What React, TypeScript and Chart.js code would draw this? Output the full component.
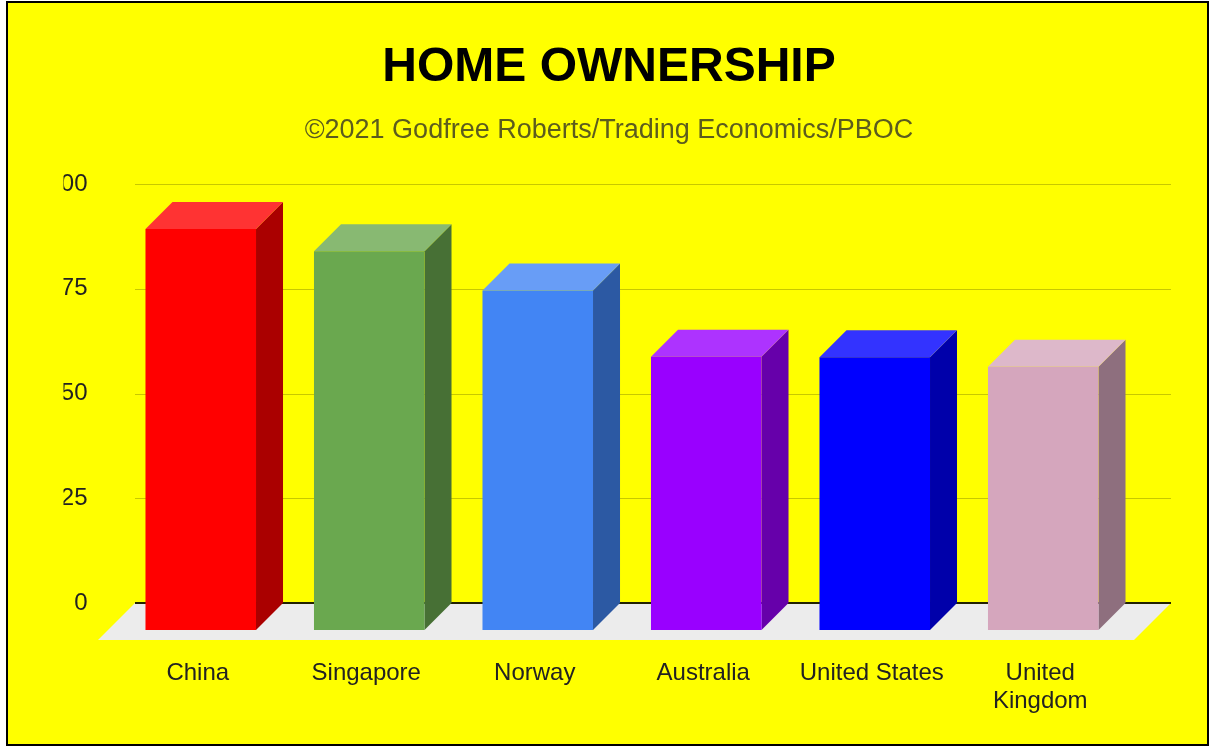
import React, { useEffect, useRef } from "react";
import { Chart, registerables } from "chart.js";

Chart.register(...registerables);

const categories = ["China", "Singapore", "Norway", "Australia", "United States", ["United", "Kingdom"]];
const ownership = [95.7, 90.4, 81, 65.2, 65.1, 62.8];
const frontColors = ["#ff0000", "#6aa84f", "#4285f4", "#9900ff", "#0000ff", "#d5a6bd"];
const topColors = ["#ff3333", "#88b972", "#689df6", "#ad33ff", "#3333ff", "#ddb8ca"];
const sideColors = ["#aa0000", "#477035", "#2c59a3", "#6600aa", "#0000aa", "#8e6f7e"];
const yTicks = [0, 25, 50, 75, 100];
const titleText = "HOME OWNERSHIP";
const subtitleText = "©2021 Godfree Roberts/Trading Economics/PBOC";

const DEPTH = 27;
const FLOOR = 37;

const threeD = {
  id: "threeD",
  beforeDraw(chart: any) {
    const { ctx, width, height } = chart;
    ctx.save();
    ctx.fillStyle = "#ffff00";
    ctx.fillRect(7, 2, width - 8, height - 3);
    ctx.strokeStyle = "#000000";
    ctx.lineWidth = 2;
    ctx.strokeRect(7, 2, width - 9, height - 4);
    ctx.restore();
  },
  beforeDatasetsDraw(chart: any) {
    const { ctx, chartArea, scales } = chart;
    const left = chartArea.left - 8.5;
    const right = chartArea.right + 16.5;
    const zero = scales.y.getPixelForValue(0);
    ctx.save();
    ctx.fillStyle = "#ececec";
    ctx.beginPath();
    ctx.moveTo(left, zero);
    ctx.lineTo(right, zero);
    ctx.lineTo(right - FLOOR, zero + FLOOR);
    ctx.lineTo(left - FLOOR, zero + FLOOR);
    ctx.closePath();
    ctx.fill();
    yTicks.forEach((v) => {
      const y = Math.round(scales.y.getPixelForValue(v)) + 0.5;
      ctx.strokeStyle = v === 0 ? "#222200" : "#c8c800";
      ctx.lineWidth = v === 0 ? 2 : 1;
      ctx.beginPath();
      ctx.moveTo(left, v === 0 ? y - 0.5 : y);
      ctx.lineTo(right, v === 0 ? y - 0.5 : y);
      ctx.stroke();
    });
    const meta = chart.getDatasetMeta(0);
    meta.data.forEach((bar: any, i: number) => {
      const p = bar.getProps(["x", "y", "base", "width"], true);
      const l = p.x - p.width / 2;
      const r = p.x + p.width / 2;
      ctx.fillStyle = sideColors[i];
      ctx.beginPath();
      ctx.moveTo(r - DEPTH, p.y + DEPTH);
      ctx.lineTo(r, p.y);
      ctx.lineTo(r, p.base);
      ctx.lineTo(r - DEPTH, p.base + DEPTH);
      ctx.closePath();
      ctx.fill();
      ctx.fillStyle = topColors[i];
      ctx.beginPath();
      ctx.moveTo(l - DEPTH, p.y + DEPTH);
      ctx.lineTo(l, p.y);
      ctx.lineTo(r, p.y);
      ctx.lineTo(r - DEPTH, p.y + DEPTH);
      ctx.closePath();
      ctx.fill();
    });
    ctx.restore();
  },
  beforeDatasetDraw(chart: any) {
    chart.ctx.save();
    chart.ctx.translate(-DEPTH, DEPTH);
  },
  afterDatasetDraw(chart: any) {
    chart.ctx.restore();
  },
};

export default function App() {
  const ref = useRef<HTMLCanvasElement>(null);
  useEffect(() => {
    const chart = new Chart(ref.current!, {
      type: "bar",
      data: {
        labels: categories as any,
        datasets: [
          {
            label: "Home ownership",
            data: ownership,
            backgroundColor: frontColors,
            borderWidth: 0,
            barPercentage: 0.656,
            categoryPercentage: 1,
            clip: false as any,
          },
        ],
      },
      plugins: [threeD],
      options: {
        responsive: false,
        animation: false,
        layout: { padding: { left: 63.5, right: 55.5, top: 0, bottom: 0 } },
        plugins: {
          legend: { display: false },
          tooltip: { enabled: false },
          title: {
            display: true,
            text: titleText,
            color: "#000000",
            font: { family: "Liberation Sans", size: 48, weight: "bold", lineHeight: 1.2 },
            padding: { top: 39.2, bottom: 18 },
          },
          subtitle: {
            display: true,
            text: subtitleText,
            color: "#5c5c1e",
            font: { family: "Liberation Sans", size: 27, weight: "normal", lineHeight: 1.2 },
            padding: { top: 0, bottom: 36.8 },
          },
        },
        scales: {
          x: {
            grid: { display: false },
            border: { display: false },
            afterFit(scale: any) {
              scale.height = 144;
            },
            ticks: {
              autoSkip: false,
              maxRotation: 0,
              minRotation: 0,
              labelOffset: -30,
              padding: 48,
              color: "#222222",
              font: { family: "Liberation Sans", size: 24, lineHeight: 1.1667 },
            },
          },
          y: {
            min: 0,
            max: 100,
            grid: { display: false, drawTicks: false },
            border: { display: false },
            afterFit(scale: any) {
              scale.width = 80;
            },
            afterBuildTicks(scale: any) {
              scale.ticks = yTicks.map((value) => ({ value }));
            },
            ticks: {
              padding: 56,
              color: "#222222",
              font: { family: "Liberation Sans", size: 24 },
            },
          },
        },
      },
    });
    return () => chart.destroy();
  }, []);
  return (
    <div style={{ position: "absolute", left: 0, top: 0, width: 1210, height: 747, background: "#ffffff" }}>
      <canvas ref={ref} width={1210} height={747} style={{ display: "block" }} />
    </div>
  );
}
